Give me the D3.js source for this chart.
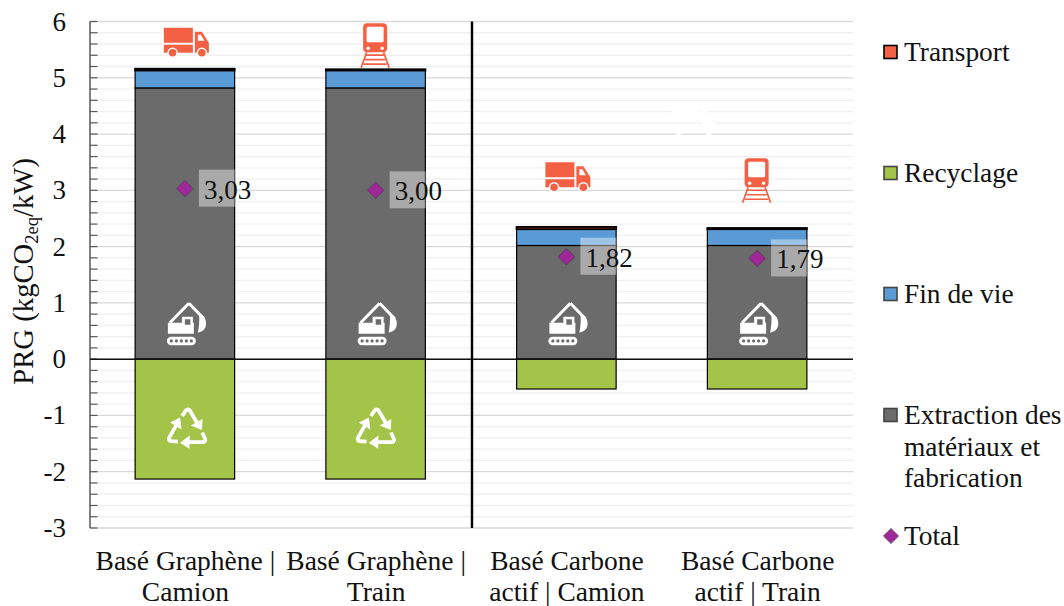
<!DOCTYPE html>
<html><head><meta charset="utf-8">
<script src="https://cdn.jsdelivr.net/npm/d3@7"></script>
<style>html,body{margin:0;background:#fff}svg{display:block}text{font-family:"Liberation Serif",serif;fill:#111}</style>
</head><body><svg id="c" width="1064" height="606"></svg>
<script>
const categories = [["Basé Graphène |","Camion"],["Basé Graphène |","Train"],["Basé Carbone","actif | Camion"],["Basé Carbone","actif | Train"]];
const transport = [0.03,0.02,0.04,0.02];
const finDeVie = [0.31,0.31,0.29,0.29];
const extraction = [4.82,4.82,2.02,2.02];
const recyclage = [-2.13,-2.13,-0.53,-0.53];
const totals = [3.03,3.00,1.82,1.79];
const totalLabels = ["3,03","3,00","1,82","1,79"];
const yTicks = [-3,-2,-1,0,1,2,3,4,5,6];
const minorTicks = d3.range(-30,61,2).map(d=>d/10);
const iconTop = [5.89,5.97,3.5,3.57];
const legendNames = [["Transport"],["Recyclage"],["Fin de vie"],["Extraction des","matériaux et","fabrication"],["Total"]];
const keys = ["extraction","finDeVie","transport","recyclage"];
const colors = {transport:"#f46043",recyclage:"#a4c449",finDeVie:"#5b9bd5",extraction:"#6b6b6b"};

const svg = d3.select("#c");
const idx = d3.range(categories.length);
const x = d3.scaleBand().domain(idx).range([90,853]).paddingInner(0).paddingOuter(0);
const y = d3.scaleLinear().domain([-3,6]).range([528,21.5]);
const barW = 99.5;
const cx = i=>x(i)+x.bandwidth()/2-0.5;

// gridlines
svg.append("g").selectAll("line").data(minorTicks.filter(d=>!yTicks.some(t=>Math.abs(t-d)<1e-6))).join("line")
 .attr("x1",90).attr("x2",853).attr("y1",d=>y(d)).attr("y2",d=>y(d)).attr("stroke","#f0f0f0").attr("stroke-width",1.3);
svg.append("g").selectAll("line").data(yTicks).join("line")
 .attr("x1",90).attr("x2",853).attr("y1",d=>y(d)).attr("y2",d=>y(d)).attr("stroke","#d9d9d9").attr("stroke-width",1.3);

// small white gaps in the gridlines
const gaps = [[4.4,0,28],[4.4,30,37],[4.2,31,44],[4,5,10],[4,35,40]];
svg.append("g").attr("transform",`translate(${cx(3)-86},0)`).selectAll("line").data(gaps).join("line")
 .attr("x1",d=>d[1]).attr("x2",d=>d[2]).attr("y1",d=>y(d[0])).attr("y2",d=>y(d[0])).attr("stroke","#fff").attr("stroke-width",2.5);

// bars
const table = idx.map(i=>({extraction:extraction[i],finDeVie:finDeVie[i],transport:transport[i],recyclage:recyclage[i]}));
const stacked = d3.stack().keys(keys).offset(d3.stackOffsetDiverging)(table);
svg.append("g").selectAll("g").data(stacked).join("g").attr("fill",d=>colors[d.key])
 .attr("stroke-width",d=>d.key==="transport"?1.9:1.2)
 .selectAll("rect").data(d=>d).join("rect")
 .attr("x",(d,i)=>cx(i)-barW/2).attr("width",barW)
 .attr("y",d=>y(d[1])).attr("height",d=>Math.abs(y(d[0])-y(d[1])))
 .attr("stroke","#000");

// axis
const axis = svg.append("g");
axis.append("line").attr("x1",90).attr("x2",90).attr("y1",y(6)).attr("y2",y(-3)).attr("stroke","#595959").attr("stroke-width",1.5);
axis.selectAll("line.t").data(minorTicks).join("line").attr("class","t")
 .attr("x1",90).attr("x2",97.5).attr("y1",d=>y(d)).attr("y2",d=>y(d)).attr("stroke","#595959").attr("stroke-width",1.2);
axis.selectAll("text").data(yTicks).join("text").attr("x",66).attr("y",d=>y(d)+9).attr("text-anchor","end")
 .attr("font-size",27).text(d=>d);
svg.append("line").attr("x1",90).attr("x2",853).attr("y1",y(0)).attr("y2",y(0)).attr("stroke","#111").attr("stroke-width",1.5);
svg.append("line").attr("x1",x(2)+0.5).attr("x2",x(2)+0.5).attr("y1",y(6)).attr("y2",y(-3)).attr("stroke","#000").attr("stroke-width",2.4);

// axis title
const title = svg.append("text").attr("transform",`translate(33,${y(1.56)}) rotate(-90)`).attr("text-anchor","middle").attr("font-size",28.7);
title.append("tspan").text("PRG (kgCO");
title.append("tspan").attr("font-size",18.5).attr("dy",5).text("2eq");
title.append("tspan").attr("dy",-5).text("/kW)");

// category labels
const cat = svg.append("g").selectAll("text").data(idx).join("text").attr("text-anchor","middle").attr("font-size",27.5);
cat.selectAll("tspan").data(i=>categories[i].map(t=>({t,i}))).join("tspan")
 .attr("x",d=>cx(d.i)+0.5).attr("y",(d,j)=>570+j*31).text(d=>d.t);

// icons
const truck = "M0,0H29V15H0Z M0,17H29V25H0Z M31,4H38L45,15V25H31Z M34,7V13H40.5L37,7Z";
function drawTruck(g){
  g.append("path").attr("d",truck).attr("fill","#f46043").attr("fill-rule","evenodd");
  g.selectAll("circle.o").data([8.7,38]).join("circle").attr("class","o").attr("cx",d=>d).attr("cy",25).attr("r",5.2).attr("fill","#fff");
  g.selectAll("circle.i").data([8.7,38]).join("circle").attr("class","i").attr("cx",d=>d).attr("cy",25).attr("r",3.8).attr("fill","#f46043");
}
function drawTrain(g){
  g.append("rect").attr("x",3).attr("y",0).attr("width",24).attr("height",29).attr("rx",4).attr("fill","#f46043");
  g.append("rect").attr("x",6.5).attr("y",3.5).attr("width",17).attr("height",15.5).attr("rx",1.5).attr("fill","#fff");
  g.selectAll("circle").data([8,22]).join("circle").attr("cx",d=>d).attr("cy",25).attr("r",1.7).attr("fill","#fff");
  g.append("path").attr("d","M6.5,29 L1,44.5 M23.5,29 L29,44.5 M6,32H24 M5,36.5H25 M3.5,41H26.5").attr("stroke","#f46043").attr("stroke-width",1.7).attr("fill","none");
}
idx.forEach(i=>{
  const g = svg.append("g").attr("transform",`translate(${cx(i)+(i%2?-15.5:-21)},${y(iconTop[i])})`);
  (i%2?drawTrain:drawTruck)(g);
  const ex = svg.append("g").attr("transform",`translate(${cx(i)-17},${y(1.02)})`);
  ex.append("path").attr("d","M21,1.5 L36,17 M21,1.5 L2,21").attr("stroke","#fff").attr("stroke-width",3).attr("fill","none");
  ex.append("path").attr("d","M0,21 L0,32 H26 V21 H25 V15 H14 V21Z M17,17.5 H22.5 V23 H17Z").attr("fill","#fff").attr("fill-rule","evenodd");
  ex.append("path").attr("d","M31,12 C36,13 39,18 38,24 C37,28 34,30 30,31 C31,25 32,18 31,12Z").attr("fill","#fff");
  ex.append("rect").attr("x",-1).attr("y",35).attr("width",29).attr("height",8.5).attr("rx",4.2).attr("fill","#fff");
  ex.selectAll("circle").data([3.5,8.5,13.5,18.5,23.5]).join("circle").attr("cx",d=>d).attr("cy",39.2).attr("r",1.6).attr("fill",colors.extraction);
});
// recycling icon
[0,1].forEach(i=>{
  const g = svg.append("g").attr("transform",`translate(${cx(i)+(i?0.5:2.5)},${y(-1.26)}) scale(1.17)`).attr("fill","none").attr("stroke","#fff").attr("stroke-width",3.2);
  [0,120,240].forEach(a=>{
    const s = g.append("g").attr("transform",`rotate(${a})`);
    s.append("path").attr("d","M-4.5,-12 L-1,-17 Q0,-18.5 2,-17 L9,-5");
    s.append("path").attr("d","M12.5,0 L3,-4 L13,-9.5Z").attr("fill","#fff").attr("stroke","none");
  });
});

// totals
const diamond = s=>d3.symbol(d3.symbolSquare,s)();
const tot = svg.append("g");
idx.forEach(i=>{
  const px = cx(i), py = y(totals[i]);
  tot.append("rect").attr("x",px+14).attr("y",py-19).attr("width",36).attr("height",37).attr("fill","#fff").attr("opacity",0.42);
  tot.append("text").attr("x",px+19).attr("y",py+10).attr("font-size",27).text(totalLabels[i]);
  tot.append("path").attr("d",diamond(135)).attr("transform",`translate(${px},${py}) rotate(45)`).attr("fill","#a0279a").attr("stroke","#3a3a3a").attr("stroke-width",0.6);
});

// legend
const legY = [52,173,294,415,536];
const legC = ["#f46043",colors.recyclage,colors.finDeVie,colors.extraction];
legendNames.forEach((names,i)=>{
  const g = svg.append("g");
  if(i<4) g.append("rect").attr("x",884).attr("y",legY[i]-6.5).attr("width",13).attr("height",13).attr("fill",legC[i]).attr("stroke",i==0?"#000":"#444").attr("stroke-width",1.6);
  else g.append("path").attr("d",diamond(115)).attr("transform",`translate(891,${legY[i]}) rotate(45)`).attr("fill","#a0279a").attr("stroke","#3a3a3a").attr("stroke-width",0.6);
  names.forEach((t,j)=>g.append("text").attr("x",904).attr("y",legY[i]+9+j*31.5).attr("font-size",27.4).text(t));
});
</script></body></html>
